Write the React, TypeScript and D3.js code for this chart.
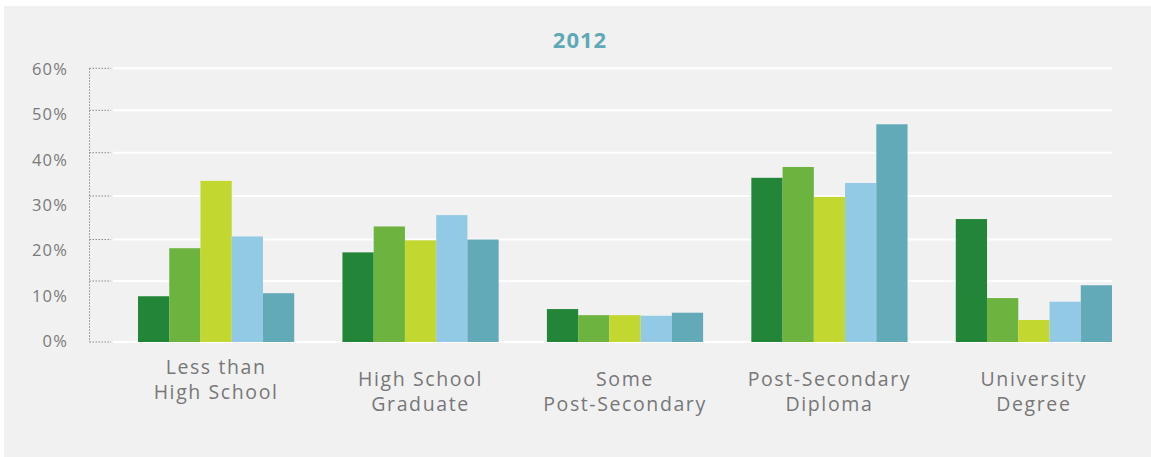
import React from "react";
import * as d3 from "d3";

const categories = [
  ["Less than", "High School"],
  ["High School", "Graduate"],
  ["Some", "Post-Secondary"],
  ["Post-Secondary", "Diploma"],
  ["University", "Degree"],
];
const seriesNames = ["Series 1", "Series 2", "Series 3", "Series 4", "Series 5"];
const seriesColors = ["#228537", "#6db33f", "#c2d72f", "#92cae6", "#62aab8"];
const series1 = [7.5, 16.9, 5.4, 34.2, 24.7];
const series2 = [17.9, 23.0, 4.4, 36.7, 7.2];
const series3 = [33.5, 19.8, 4.4, 29.8, 3.6];
const series4 = [20.7, 25.6, 4.3, 33.0, 6.6];
const series5 = [8.0, 20.0, 4.8, 46.7, 9.3];
const seriesValues = [series1, series2, series3, series4, series5];
const tickValues = [0, 10, 20, 30, 40, 50, 60];
const tickLabels = ["0%", "10%", "20%", "30%", "40%", "50%", "60%"];
const title = "2012";

const W = 1151;
const H = 457;
const FONT = "'Open Sans', 'Noto Sans', sans-serif";

export default function App() {
  // gridline / bar scale (the reference's gridlines are not evenly spaced)
  const y = d3
    .scaleLinear()
    .domain(tickValues)
    .range([342, 281, 239.5, 196, 152.7, 110.3, 68.3]);
  // tick labels sit on an even spacing
  const yLabel = d3.scaleLinear().domain([0, 60]).range([341, 69]);
  const x0 = d3
    .scaleBand<number>()
    .domain(categories.map((_, i) => i))
    .range([138, 1112])
    .paddingInner(0.236)
    .paddingOuter(0);
  const x1 = d3
    .scaleBand<number>()
    .domain(seriesNames.map((_, i) => i))
    .range([0, x0.bandwidth()]);

  return (
    <svg
      width={W}
      height={H}
      style={{ position: "absolute", left: 0, top: 0, display: "block" }}
    >
      <rect x={0} y={0} width={W} height={H} fill="#ffffff" />
      <rect x={4} y={6} width={W - 4} height={H - 6} fill="#f1f1f1" />
      <text
        x={580}
        y={48}
        textAnchor="middle"
        fontFamily={FONT}
        fontWeight={700}
        fontSize={22}
        letterSpacing={1}
        fill="#5fa9b7"
      >
        {title}
      </text>
      {/* dotted axis */}
      <line
        x1={89.5}
        x2={89.5}
        y1={y(60)}
        y2={y(0)}
        stroke="#8a8a8a"
        strokeWidth={1}
        strokeDasharray="1.5 1.5"
      />
      {tickValues.map((t, i) => (
        <g key={t}>
          <line
            x1={89.5}
            x2={111}
            y1={y(t)}
            y2={y(t)}
            stroke="#8a8a8a"
            strokeWidth={1}
            strokeDasharray="1.5 1.5"
          />
          <line
            x1={113}
            x2={1112}
            y1={y(t)}
            y2={y(t)}
            stroke="#ffffff"
            strokeWidth={2}
          />
          <text
            x={68}
            y={yLabel(t)}
            dy="0.36em"
            textAnchor="end"
            fontFamily={FONT}
            fontSize={16.5}
            letterSpacing={1.2}
            fill="#7a7a7a"
          >
            {tickLabels[i]}
          </text>
        </g>
      ))}
      {categories.map((cat, ci) => (
        <g key={ci} transform={`translate(${x0(ci)},0)`}>
          {seriesValues.map((vals, si) => (
            <rect
              key={si}
              x={x1(si)}
              y={y(vals[ci])}
              width={x1.bandwidth()}
              height={y(0) - y(vals[ci])}
              fill={seriesColors[si]}
            />
          ))}
          {cat.map((line, li) => (
            <text
              key={li}
              x={x0.bandwidth() / 2}
              y={(ci === 0 ? 374 : 386) + li * 25}
              textAnchor="middle"
              fontFamily={FONT}
              fontSize={19.5}
              letterSpacing={1.6}
              fill="#777778"
            >
              {line}
            </text>
          ))}
        </g>
      ))}
    </svg>
  );
}
